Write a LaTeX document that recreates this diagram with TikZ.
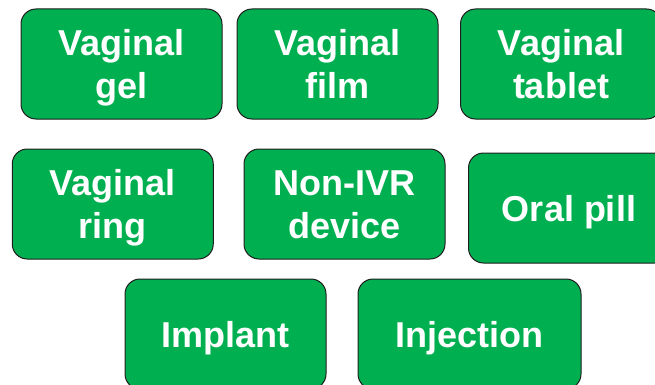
\documentclass[tikz,border=0pt]{standalone}
\usepackage{fontspec}
\setmainfont{Liberation Sans}
\definecolor{BoxClr}{RGB}{0,176,80}
\definecolor{EdgeClr}{RGB}{30,30,30}
\newcommand{\BoxStrut}{\rule[-7.5pt]{0pt}{41.5pt}}

\begin{document}
\begin{tikzpicture}[x=1pt,y=1pt,
  FormBox/.style={draw=EdgeClr,line width=1pt,fill=BoxClr,rounded corners=15pt,
    minimum width=201pt,minimum height=110pt,text=white,align=center,
    font=\fontsize{36}{43}\selectfont\bfseries,inner sep=0pt}]
\useasboundingbox (0,0) rectangle (655,384);
\clip (0,0) rectangle (655,384);

\node[FormBox] (gel) at (121.5,320) {Vaginal\BoxStrut\\gel\BoxStrut};
\node[FormBox] (film) at (337.5,320) {Vaginal\BoxStrut\\film\BoxStrut};
\node[FormBox] (tablet) at (561,320) {Vaginal\BoxStrut\\tablet\BoxStrut};

\node[FormBox] (ring) at (112.75,180) {Vaginal\BoxStrut\\ring\BoxStrut};
\node[FormBox] (device) at (344.5,180) {Non-IVR\BoxStrut\\device\BoxStrut};
\node[FormBox] (pill) at (569,176) {Oral pill\BoxStrut};

\node[FormBox] (implant) at (225.5,50) {Implant\BoxStrut};
\node[FormBox,minimum width=223pt] (injection) at (469.5,50) {Injection\BoxStrut};

\end{tikzpicture}
\end{document}
